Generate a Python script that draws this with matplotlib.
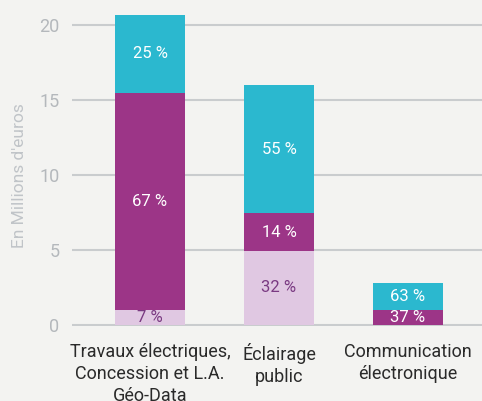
import numpy as np
import matplotlib
matplotlib.use("Agg")
import matplotlib.pyplot as plt

plt.rcParams['font.family'] = ['Roboto', 'DejaVu Sans']

# data (millions of euros)
categories = ["Travaux électriques,\nConcession et L.A.\nGéo-Data",
              "Éclairage\npublic",
              "Communication\nélectronique"]
low_vals = [0.94, 4.91, 0.0]
mid_vals = [14.55, 2.55, 0.96]
top_vals = [5.23, 8.53, 1.81]
low_pct = ["7 %", "32 %", ""]
mid_pct = ["67 %", "14 %", "37 %"]
top_pct = ["25 %", "55 %", "63 %"]

bg = "#f3f3f1"
c_low = "#e0c8e2"
c_mid = "#9c3587"
c_top = "#2bb8cf"

fig = plt.figure(figsize=(4.82, 4.01), dpi=100, facecolor=bg)
ax = fig.add_axes([72/482, 1 - 326/401, 1 - 72/482, 326/401])
ax.set_facecolor(bg)

x = np.arange(len(categories))
w = 0.54
low = np.array(low_vals)
mid = np.array(mid_vals)
top = np.array(top_vals)

ax.bar(x, low, w, color=c_low, zorder=3)
ax.bar(x, mid, w, bottom=low, color=c_mid, zorder=3)
ax.bar(x, top, w, bottom=low + mid, color=c_top, zorder=3)

for i in range(len(x)):
    if low_pct[i]:
        ax.text(x[i], low[i]/2, low_pct[i], ha='center', va='center',
                color="#7a3a82", fontsize=12, zorder=4)
    ax.text(x[i], low[i] + mid[i]/2, mid_pct[i], ha='center', va='center',
            color="white", fontsize=12, zorder=4)
    ax.text(x[i], low[i] + mid[i] + top[i]/2, top_pct[i], ha='center', va='center',
            color="white", fontsize=12, zorder=4)

ax.set_ylim(-0.1, 21.7)
ax.set_xlim(-0.605, 2.574)
ax.set_yticks([0, 5, 10, 15, 20])
ax.yaxis.grid(True, color="#c9ccce", linewidth=1.5, zorder=0)
ax.set_xticks(x)
ax.set_xticklabels(categories, fontsize=13, color="#2a2a2a", linespacing=1.3)
ax.tick_params(axis='y', length=0, pad=9, labelsize=13, labelcolor="#b4b8bc")
ax.tick_params(axis='x', length=0, pad=12)
for s in ax.spines.values():
    s.set_visible(False)

fig.text(20/482, 1 - 176/401, "En Millions d'euros", rotation=90,
         ha='center', va='center', color="#c0c4c8", fontsize=12.5)

fig.savefig("out.png", dpi=100, facecolor=bg)
